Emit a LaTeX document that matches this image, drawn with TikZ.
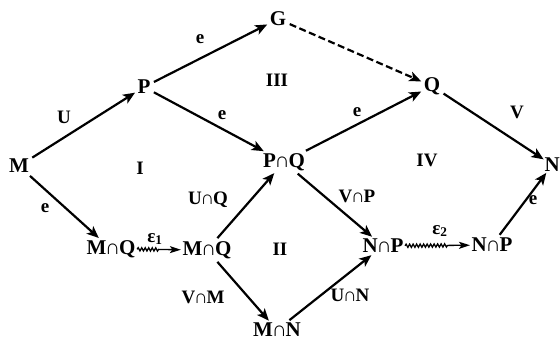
\documentclass[tikz,border=0pt]{standalone}
\usepackage{fontspec}
\setmainfont{Liberation Serif}
\usetikzlibrary{arrows.meta,decorations.pathmorphing}
\newcommand{\icap}{\kern-1.2pt∩\kern-1.2pt}
\tikzset{
  obj/.style={font=\fontsize{21}{24}\selectfont\bfseries, inner sep=1.5pt},
  lab/.style={font=\fontsize{19}{22}\selectfont\bfseries, inner sep=0pt},
  arr/.style={line width=2.2pt, -{Stealth[length=12pt,width=10pt,inset=3pt]}, shorten >=1pt, shorten <=2pt},
  dasharr/.style={arr, dash pattern=on 7pt off 3.5pt},
  wavy/.style={line width=1.3pt, -{Stealth[length=11pt,width=7pt,inset=2.5pt]}, decorate,
    decoration={snake, amplitude=1.6pt, segment length=3.5pt, post length=22pt}}
}
\begin{document}
\begin{tikzpicture}[x=1pt,y=-1pt]
\useasboundingbox (0,0) rectangle (560,343);
% objects
\node[obj] (M) at (19,166) {M};
\node[obj] (P) at (144,87) {P};
\node[obj] (G) at (278,19) {G};
\node[obj] (Q) at (432,86) {Q};
\node[obj, anchor=east, inner sep=0pt] (N) at (560,165) {N};
\node[obj] (PQ) at (284,162) {P\icap Q};
\node[obj] (MQ1) at (111,249) {M\icap Q};
\node[obj] (MQ2) at (207,250) {M\icap Q};
\node[obj] (MN) at (277,330) {M\icap N};
\node[obj] (NP1) at (383,246) {N\icap P};
\node[obj] (NP2) at (492,245) {N\icap P};
% region labels
\node[lab] (rI) at (140,168) {I};
\node[lab] (rII) at (280,249) {II};
\node[lab] (rIII) at (277,80) {III};
\node[lab] (rIV) at (427,160) {IV};
% arrows
\draw[arr] (M) -- (P);
\draw[arr] (P) -- (G);
\draw[arr] (P) -- (PQ);
\draw[dasharr] (G) -- (Q);
\draw[arr] (PQ) -- (Q);
\draw[arr] (Q) -- (N);
\draw[arr] (M) -- (MQ1);
\draw[wavy] (MQ1) -- (MQ2);
\draw[arr] (MQ2) -- (PQ);
\draw[arr] (MQ2) -- (MN);
\draw[arr] (MN) -- (NP1);
\draw[arr] (PQ) -- (NP1);
\draw[wavy] (NP1) -- (NP2);
\draw[arr] (NP2) -- (N);
% edge labels
\node[lab] (lU) at (64,117) {U};
\node[lab] (le1) at (200,39) {e};
\node[lab] (le2) at (222,115) {e};
\node[lab] (le3) at (357,112) {e};
\node[lab] (lV) at (517,112) {V};
\node[lab] (le4) at (45,208) {e};
\node[lab] (leps1) at (155,239) {ε\textsubscript{1}};
\node[lab] (lUQ) at (208,200) {U\icap Q};
\node[lab] (lVM) at (203,297) {V\icap M};
\node[lab] (lVP) at (357,196) {V\icap P};
\node[lab] (lUN) at (350,295) {U\icap N};
\node[lab] (leps2) at (440,231) {ε\textsubscript{2}};
\node[lab] (le5) at (533,200) {e};
\end{tikzpicture}
\end{document}
